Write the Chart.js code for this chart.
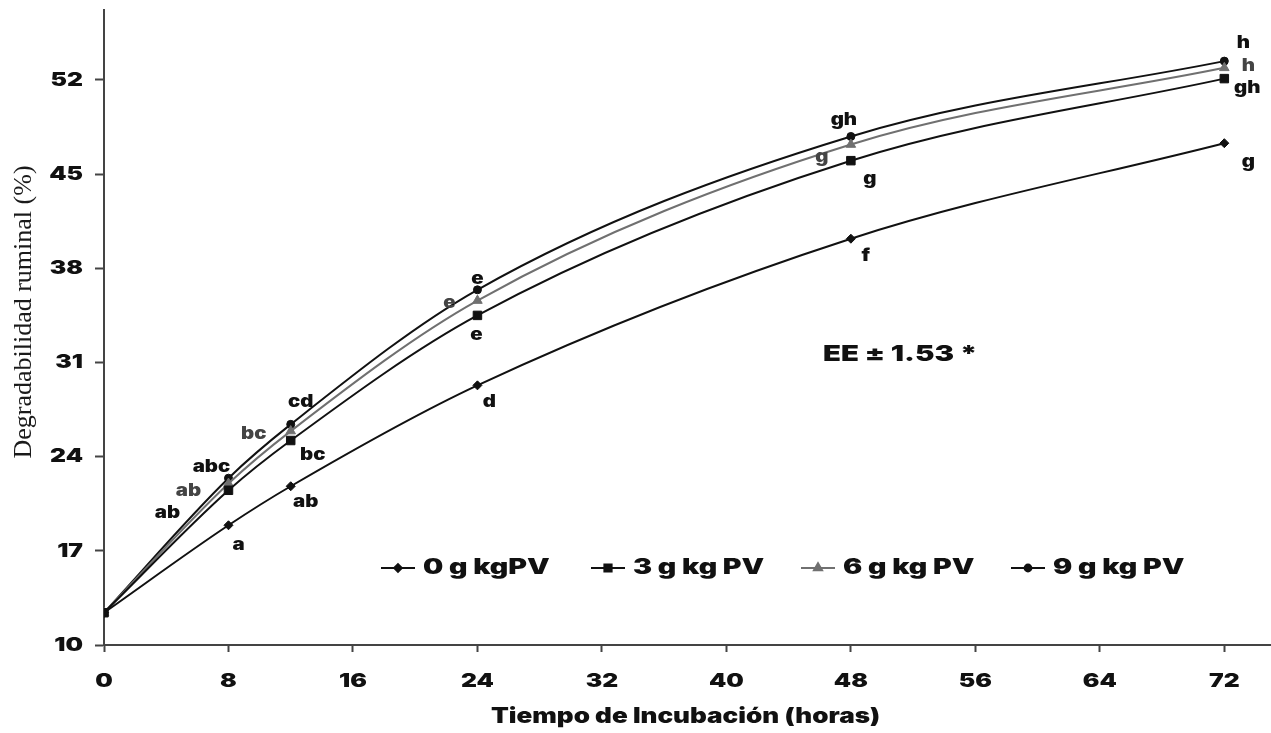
<!DOCTYPE html>
<html>
<head>
<meta charset="utf-8">
<script src="https://cdn.jsdelivr.net/npm/chart.js@4.4.1/dist/chart.umd.min.js"></script>
<style>
  html, body { margin: 0; padding: 0; background: #fff; }
  #wrap { width: 1271px; height: 733px; position: relative; }
</style>
</head>
<body>
<div id="wrap"><canvas id="chart"></canvas></div>
<script>
// incubation times (h) and ruminal degradability (%)
const hours = [0, 8, 12, 24, 48, 72]
const seriesNames = ["0 g kgPV", "3 g kg PV", "6 g kg PV", "9 g kg PV"]
const dose0 = [12.4, 18.9, 21.8, 29.3, 40.2, 47.3]
const dose3 = [12.4, 21.5, 25.2, 34.5, 46.0, 52.1]
const dose6 = [12.4, 22.0, 25.9, 35.6, 47.2, 52.9]
const dose9 = [12.4, 22.4, 26.4, 36.4, 47.8, 53.4]

// significance letters per point
const letters0 = ["", "a", "ab", "d", "f", "g"]
const letters3 = ["", "ab", "bc", "e", "g", "gh"]
const letters6 = ["", "ab", "bc", "e", "g", "h"]
const letters9 = ["", "abc", "cd", "e", "gh", "h"]

const xTicks = [0, 8, 16, 24, 32, 40, 48, 56, 64, 72]
const yTicks = [10, 17, 24, 31, 38, 45, 52]
const yTitle = "Degradabilidad ruminal (%)"
const xTitle = "Tiempo de Incubación (horas)"
const noteText = "EE ± 1.53 *"

const seriesValues = [dose0, dose3, dose6, dose9]
const seriesLetters = [letters0, letters3, letters6, letters9]
const styles = [
    {color: "#111", style: "rectRot", radius: 4.5, text: "#111"},
    {color: "#111", style: "rect", radius: 6, text: "#111"},
    {color: "#707070", style: "triangle", radius: 5.5, text: "#444"},
    {color: "#111", style: "circle", radius: 4, text: "#111"},
]
// label offsets (px) from each point, per series
const letterOffsets = [
    [null, [10, 20], [15, 16], [12, 17], [15, 17], [24, 19]],
    [null, [-61, 23], [22, 14], [-1, 19], [19, 18], [23, 9]],
    [null, [-40, 7], [-37, 3], [-28, 2], [-29, 12], [24, -2]],
    [null, [-17, -11], [10, -22], [0, -11], [-7, -17], [19, -18]],
]

const heavyFont = 'Inter, "DejaVu Sans", sans-serif'

// the original lettering is a wide black face, so text is stretched sideways
function stretchText(ctx, txt, x, y, sx, align)
{
    ctx.save()
    ctx.translate(x, y)
    ctx.scale(sx, 1)
    ctx.textAlign = align
    ctx.fillText(txt, 0, 0)
    ctx.restore()
}

const lettersPlugin = {
    id: 'pointLetters',
    afterDatasetsDraw(chart)
    {
        const ctx = chart.ctx
        ctx.save()
        ctx.font = '900 17px ' + heavyFont
        ctx.textBaseline = 'middle'
        seriesLetters.forEach((lets, i) =>
        {
            const meta = chart.getDatasetMeta(i)
            ctx.fillStyle = styles[i].text
            meta.data.forEach((pt, j) =>
            {
                if(!lets[j]) return
                const off = letterOffsets[i][j]
                stretchText(ctx, lets[j], pt.x + off[0], pt.y + off[1], 1.2, 'center')
            })
        })
        ctx.restore()
    }
}

const axisTextPlugin = {
    id: 'axisText',
    afterDraw(chart)
    {
        const ctx = chart.ctx
        const xs = chart.scales.x
        const ys = chart.scales.y
        ctx.save()
        ctx.fillStyle = '#111'
        ctx.textBaseline = 'middle'
        ctx.font = '900 19px ' + heavyFont
        yTicks.forEach(v => stretchText(ctx, String(v), ys.left + ys.width - 21, ys.getPixelForValue(v), 1.3, 'right'))
        xTicks.forEach(v => stretchText(ctx, String(v), xs.getPixelForValue(v), xs.top + 36, 1.3, 'center'))
        ctx.font = '900 21px ' + heavyFont
        stretchText(ctx, xTitle, (xs.left + xs.right) / 2 - 2, xs.top + 72, 1.24, 'center')
        ctx.restore()
    }
}

const legendPlugin = {
    id: 'lineLegend',
    afterDraw(chart)
    {
        const ctx = chart.ctx
        const x0 = 381, gap = 210, y = 568, lineLen = 34
        ctx.save()
        seriesNames.forEach((name, i) =>
        {
            const x = x0 + i * gap
            const st = styles[i]
            ctx.strokeStyle = st.color
            ctx.fillStyle = st.color
            ctx.lineWidth = 2
            ctx.beginPath()
            ctx.moveTo(x, y)
            ctx.lineTo(x + lineLen, y)
            ctx.stroke()
            Chart.helpers.drawPoint(ctx, {pointStyle: st.style, radius: st.radius * 0.85, rotation: 0, borderWidth: 1}, x + lineLen / 2, y)
            ctx.fillStyle = '#111'
            ctx.font = '900 21px ' + heavyFont
            ctx.textBaseline = 'middle'
            stretchText(ctx, name, x + lineLen + 8, y, 1.36, 'left')
        })
        // standard error note
        ctx.font = '900 22px ' + heavyFont
        ctx.fillStyle = '#111'
        ctx.textBaseline = 'middle'
        stretchText(ctx, noteText, 823, 354, 1.33, 'left')
        // rotated y title
        ctx.font = '26px "Liberation Serif", serif'
        ctx.fillStyle = '#1a1a1a'
        ctx.translate(24, 312)
        ctx.rotate(-Math.PI / 2)
        ctx.textAlign = 'center'
        ctx.fillText(yTitle, 0, 0)
        ctx.restore()
    }
}

const datasets = seriesValues.map((vals, i) => ({
    label: seriesNames[i],
    data: vals.map((v, j) => ({x: hours[j], y: v})),
    borderColor: styles[i].color,
    backgroundColor: styles[i].color,
    pointBackgroundColor: styles[i].color,
    pointBorderColor: styles[i].color,
    pointStyle: styles[i].style,
    pointRadius: styles[i].radius,
    pointBorderWidth: 1,
    borderWidth: 2,
    cubicInterpolationMode: 'monotone',
    fill: false,
}))

const graphConfig = {
    type: 'scatter',
    data: { datasets },
    options: {
        responsive: true,
        maintainAspectRatio: false,
        animation: false,
        layout: { autoPadding: false, padding: { top: 10, right: 0, left: 0, bottom: 0 } },
        plugins: {
            legend: { display: false },
            tooltip: { enabled: false },
        },
        showLine: true,
        scales: {
            x: {
                type: 'linear',
                min: 0,
                max: 75,
                afterBuildTicks: s => { s.ticks = xTicks.map(v => ({value: v})) },
                afterFit: s => { s.height = 88; s.paddingLeft = 0; s.paddingRight = 0 },
                border: { display: true, color: '#444', width: 2 },
                grid: { drawOnChartArea: false, drawTicks: true, tickLength: 7, tickColor: '#444', tickWidth: 2 },
                ticks: { display: false },
            },
            y: {
                min: 10,
                max: 57.2,
                afterBuildTicks: s => { s.ticks = yTicks.map(v => ({value: v})) },
                afterFit: s => { s.width = 104; s.paddingTop = 0; s.paddingBottom = 0 },
                border: { display: true, color: '#444', width: 2 },
                grid: { drawOnChartArea: false, drawTicks: true, tickLength: 9, tickColor: '#444', tickWidth: 2 },
                ticks: { display: false },
            },
        },
    },
    plugins: [lettersPlugin, axisTextPlugin, legendPlugin],
}

const ctx = document.getElementById("chart")
const myChart = new Chart(ctx, graphConfig)
</script>
</body>
</html>
